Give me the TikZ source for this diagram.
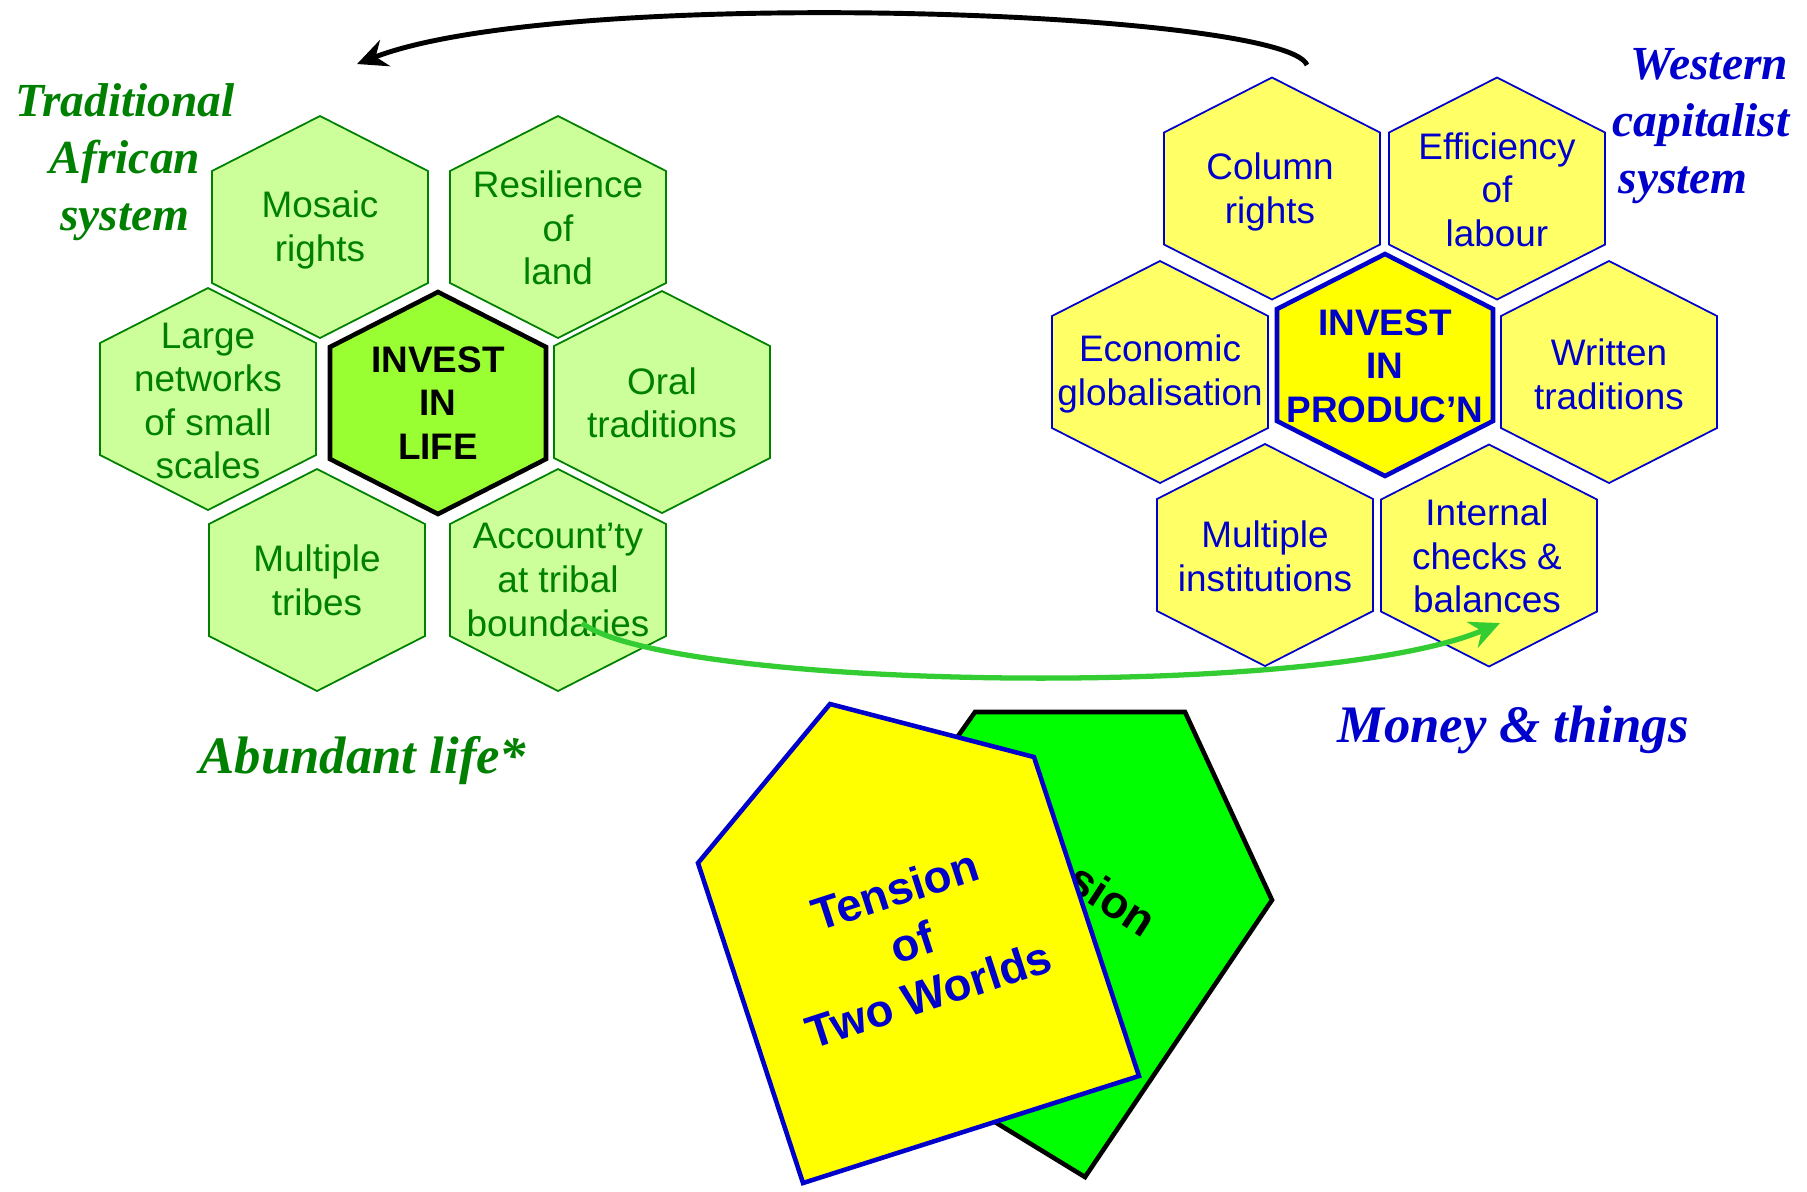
\documentclass[tikz,border=0pt]{standalone}
\usepackage{fontspec}
\setmainfont{Liberation Serif}
\setsansfont{Liberation Sans}
\usetikzlibrary{positioning, arrows.meta}

\definecolor{lifegreen}{RGB}{0,128,0}
\definecolor{lifefill}{RGB}{204,255,153}
\definecolor{lifecorefill}{RGB}{153,255,51}
\definecolor{prodblue}{RGB}{0,0,204}
\definecolor{prodfill}{RGB}{255,255,102}
\definecolor{prodcorefill}{RGB}{255,255,0}
\definecolor{brightgreen}{RGB}{0,255,0}
\definecolor{arrowgreen}{RGB}{51,204,51}

\begin{document}
\begin{tikzpicture}[
        pics/hexcell/.style={code={\path[#1] (0, 1.11) -- (1.08, 0.56) -- (1.08, -0.56) -- (0, -1.11) -- (-1.08, -0.56) -- (-1.08, 0.56) -- cycle;}},
        lifecell/.style={draw=lifegreen, fill=lifefill, line width=0.5pt},
        lifecore/.style={draw=black, fill=lifecorefill, line width=1.3pt},
        prodcell/.style={draw=prodblue, fill=prodfill, line width=0.5pt},
        prodcore/.style={draw=prodblue, fill=prodcorefill, line width=1.3pt},
        cell/.style={font=\sffamily\fontsize{10.5}{12.4}\selectfont, align=center, inner sep=0pt},
        lifetext/.style={cell, text=lifegreen},
        prodtext/.style={cell, text=prodblue},
        lifecoretext/.style={cell, text=black, font=\sffamily\bfseries\fontsize{10.5}{12.4}\selectfont},
        prodcoretext/.style={cell, text=prodblue, font=\sffamily\bfseries\fontsize{10.5}{12.4}\selectfont},
        systemlabel/.style={font=\bfseries\itshape\fontsize{13.5}{16.2}\selectfont, inner sep=0pt},
        motto/.style={font=\bfseries\itshape\fontsize{15}{18}\selectfont, inner sep=0pt, anchor=base},
        tensiontext/.style={font=\sffamily\bfseries\fontsize{13}{15.6}\selectfont, align=center, inner sep=0pt},
        swap arrow/.style={draw, line width=1.4pt, -{Stealth[length=3mm, width=2.8mm, inset=1mm]}}
    ]

    \useasboundingbox (0, 0) rectangle (18.07, -11.91);

    % Left honeycomb: traditional african system
    \pic at (3.20, -2.27) {hexcell=lifecell};
    \pic at (5.58, -2.27) {hexcell=lifecell};
    \pic at (2.08, -3.99) {hexcell=lifecell};
    \pic at (6.62, -4.02) {hexcell=lifecell};
    \pic at (3.17, -5.80) {hexcell=lifecell};
    \pic at (5.58, -5.80) {hexcell=lifecell};
    \pic at (4.38, -4.03) {hexcell=lifecore};

    \node[lifetext] (mosaic) at (3.20, -2.30) {Mosaic \\ rights};
    \node[lifetext] (resilience) at (5.58, -2.28) {Resilience \\ of \\ land};
    \node[lifetext] (networks) at (2.08, -4.01) {Large \\ networks \\ of small \\ scales};
    \node[lifecoretext] (life) at (4.38, -4.03) {INVEST \\ IN \\ LIFE};
    \node[lifetext] (oral) at (6.62, -4.03) {Oral \\ traditions};
    \node[lifetext] (tribes) at (3.17, -5.80) {Multiple \\ tribes};
    \node[lifetext] (accountability) at (5.58, -5.80) {Account’ty \\ at tribal \\ boundaries};

    % Right honeycomb: western capitalist system
    \pic at (12.72, -1.885) {hexcell=prodcell};
    \pic at (14.97, -1.885) {hexcell=prodcell};
    \pic at (11.60, -3.72) {hexcell=prodcell};
    \pic at (16.09, -3.72) {hexcell=prodcell};
    \pic at (12.65, -5.55) {hexcell=prodcell};
    \pic at (14.89, -5.555) {hexcell=prodcell};
    \pic at (13.85, -3.65) {hexcell=prodcore};

    \node[prodtext] (column) at (12.70, -1.92) {Column \\ rights};
    \node[prodtext] (efficiency) at (14.97, -1.895) {Efficiency \\ of \\ labour};
    \node[prodtext] (economic) at (11.60, -3.74) {Economic \\ globalisation};
    \node[prodcoretext] (production) at (13.85, -3.66) {INVEST \\ IN \\ PRODUC’N};
    \node[prodtext] (written) at (16.09, -3.74) {Written \\ traditions};
    \node[prodtext] (institutions) at (12.65, -5.56) {Multiple \\ institutions};
    \node[prodtext] (checks) at (14.87, -5.56) {Internal \\ checks \& \\ balances};

    % System labels
    \node[systemlabel, text=lifegreen, align=center] (tradlabel) at (1.25, -1.62) {Traditional \\ African \\ system};
    \node[systemlabel, text=prodblue, align=left, anchor=west] (westlabel) at (16.12, -1.26) {\hspace*{0.18cm}Western \\ capitalist \\ \hspace*{0.06cm}system};
    \node[motto, text=lifegreen] (lifelabel) at (3.63, -7.73) {Abundant life*};
    \node[motto, text=prodblue] (moneylabel) at (15.13, -7.42) {Money \& things};

    % Tension of two worlds
    \draw[line width=1.3pt, fill=brightgreen] (9.75, -7.12) -- (11.85, -7.12) -- (12.72, -9.00) -- (10.85, -11.77) -- (7.79, -9.90) -- cycle;
    \node[tensiontext, rotate=-33] (tensionback) at (10.80, -8.78) {Tension};
    \draw[line width=1.3pt, draw=prodblue, fill=prodcorefill] (8.30, -7.04) -- (10.34, -7.57) -- (11.39, -10.76) -- (8.03, -11.83) -- (6.98, -8.63) -- cycle;
    \node[tensiontext, text=prodblue, rotate=18] (tensionfront) at (9.12, -9.42) {Tension \\ of \\ Two Worlds};

    % Arrows between the two systems
    \coordinate (westtop) at (13.07, -0.65);
    \coordinate (tradtop) at (3.57, -0.64);
    \draw[swap arrow] (westtop) .. controls (12.85, -0.10) and (5.60, 0.15) .. (tradtop);

    \coordinate (tribalend) at (5.82, -6.23);
    \coordinate (checksend) at (15.00, -6.23);
    \draw[swap arrow, draw=arrowgreen, line width=1.5pt] (tribalend) .. controls (6.70, -6.90) and (13.20, -7.00) .. (checksend);

\end{tikzpicture}
\end{document}
